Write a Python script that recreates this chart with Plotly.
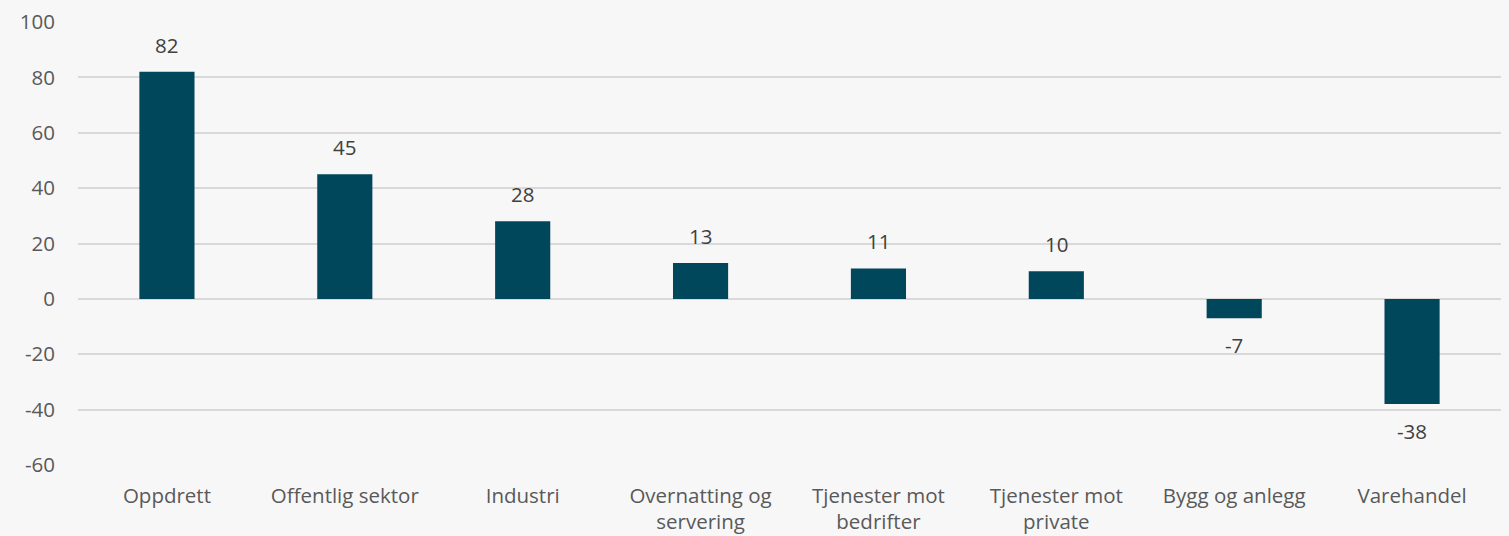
import plotly.graph_objects as go

categories = ["Oppdrett", "Offentlig sektor", "Industri", "Overnatting og<br>servering",
              "Tjenester mot<br>bedrifter", "Tjenester mot<br>private", "Bygg og anlegg", "Varehandel"]
values = [82, 45, 28, 13, 11, 10, -7, -38]
y_ticks = [-60, -40, -20, 0, 20, 40, 60, 80, 100]
y_tick_labels = ["-60", "-40", "-20", "0", "20", "40", "60", "80", "100"]

BG = "#f7f7f7"
BAR = "#00475c"
FONT = "Open Sans, Lato, sans-serif"
FS = 20.5

fig = go.Figure()
fig.add_trace(go.Bar(
    x=categories, y=values,
    marker=dict(color=BAR, line=dict(width=0)),
    width=0.31,
    hoverinfo="skip",
))

for c, v in zip(categories, values):
    fig.add_annotation(
        x=c, y=v, text=str(v), showarrow=False,
        yanchor="bottom" if v >= 0 else "top",
        yshift=11 if v >= 0 else -11,
        font=dict(family=FONT, size=FS, color="#404040"),
    )

fig.update_layout(
    width=1509, height=536,
    paper_bgcolor=BG, plot_bgcolor=BG,
    margin=dict(l=78, r=8, t=22, b=71),
    showlegend=False,
    font=dict(family=FONT, size=FS, color="#595959"),
    xaxis=dict(showgrid=False, showline=False, ticks="", tickfont=dict(size=FS, color="#595959"),
               ticklabelstandoff=16, automargin=False),
    yaxis=dict(range=[-60, 100], tickvals=y_ticks, ticktext=y_tick_labels,
               showgrid=True, gridcolor="#d9d9d9",
               gridwidth=1.5, zeroline=True, zerolinecolor="#d9d9d9", zerolinewidth=1.5,
               showline=False, ticks="", ticklabelstandoff=22, automargin=False,
               tickfont=dict(size=FS, color="#595959")),
)

fig.write_html("out.html", config={"displayModeBar": False},
               post_script="document.body.style.margin='0';document.body.style.background='#f7f7f7';")
